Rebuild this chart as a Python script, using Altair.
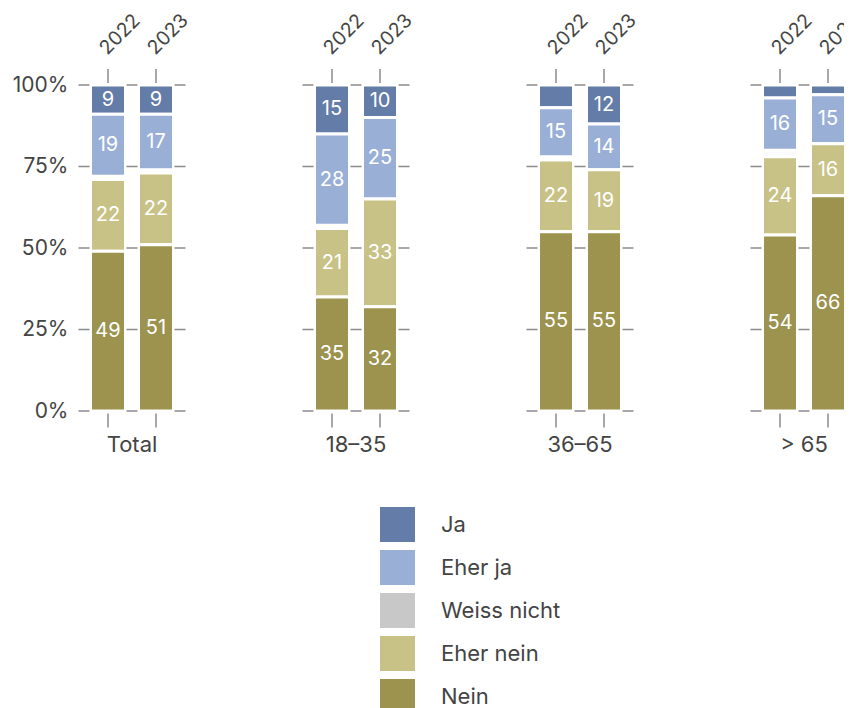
import altair as alt
import pandas as pd

FONT = "Inter"

groups = ["Total", "18–35", "36–65", "> 65"]
years = ["2022", "2023"]
answers = ["Ja", "Eher ja", "Weiss nicht", "Eher nein", "Nein"]
colors = ["#637ca8", "#9aafd6", "#c8c8c8", "#c8c287", "#9c934f"]

# values per (group, year): Total 22, Total 23, 18-35 22, 18-35 23, 36-65 22, 36-65 23, >65 22, >65 23
ja = [9, 9, 15, 10, 7, 12, 4, 3]
eher_ja = [19, 17, 28, 25, 15, 14, 16, 15]
weiss_nicht = [1, 1, 1, 0, 1, 0, 2, 0]
eher_nein = [22, 22, 21, 33, 22, 19, 24, 16]
nein = [49, 51, 35, 32, 55, 55, 54, 66]

levels = [0, 25, 50, 75, 100]

series = {"Ja": ja, "Eher ja": eher_ja, "Weiss nicht": weiss_nicht,
          "Eher nein": eher_nein, "Nein": nein}

rows = []
for gi, g in enumerate(groups):
    for yi, yr in enumerate(years):
        k = gi * 2 + yi
        for ai, a in enumerate(answers):
            rows.append(dict(group=g, year=yr, answer=a, value=series[a][k],
                             order=len(answers) - 1 - ai))
df = pd.DataFrame(rows)
bar_df = pd.DataFrame([dict(group=g, year=yr) for g in groups for yr in years])
tick_df = pd.DataFrame([dict(group=g, level=lv) for g in groups for lv in levels])

TXT = "#444444"
TICK = "#5a5a5a"

xscale = alt.Scale(domain=groups, range=[0, 768], paddingInner=128 / 224, paddingOuter=0)
xoff = alt.Scale(domain=years, paddingInner=13 / 48, paddingOuter=6.5 / 48)
yscale = alt.Scale(domain=[0, 100], nice=False)

xaxis = alt.Axis(orient="bottom", title="", ticks=False, domain=False,
                 labelPadding=23, labelFontSize=22, labelColor=TXT,
                 labelFont=FONT, labelAngle=0, grid=False)
yaxis = alt.Axis(values=levels, labelExpr="datum.value + '%'", ticks=False,
                 domain=False, grid=False, labelPadding=16, labelFontSize=21,
                 labelColor=TXT, title="", labelFont=FONT)

X = alt.X("group:N", scale=xscale, axis=xaxis)
XO = alt.XOffset("year:N", scale=xoff)

base = (alt.Chart(df)
        .transform_stack(stack="value", groupby=["group", "year"], as_=["y0", "y1"],
                         sort=[alt.SortField("order", order="ascending")])
        .transform_calculate(mid="(datum.y0 + datum.y1) / 2"))

bars = base.mark_bar(stroke="white", strokeWidth=3).encode(
    x=X,
    xOffset=XO,
    y=alt.Y("y0:Q", scale=yscale, axis=yaxis),
    y2="y1:Q",
    color=alt.Color("answer:N", scale=alt.Scale(domain=answers, range=colors),
                    legend=alt.Legend(title=None, orient="none", legendX=296, legendY=422,
                                      symbolType="square", symbolSize=1225,
                                      symbolStrokeWidth=0, symbolOpacity=1,
                                      labelFontSize=22, labelColor=TXT, labelFont=FONT,
                                      labelOffset=26, rowPadding=8)),
    opacity=alt.condition(alt.datum.answer == "Weiss nicht", alt.value(0.08), alt.value(1)),
)

seg_text = base.transform_filter(alt.datum.value >= 9).mark_text(
    color="white", fontSize=20, font=FONT, baseline="middle").encode(
    x=X, xOffset=XO,
    y=alt.Y("mid:Q", scale=yscale, axis=yaxis),
    text="value:Q",
)

tick_layers = []
for off in (-48, 0, 48):
    tick_layers.append(
        alt.Chart(tick_df).mark_tick(orient="horizontal", size=11, thickness=1.5,
                                     color=TICK, xOffset=off).encode(
            x=X, y=alt.Y("level:Q", scale=yscale, axis=yaxis)))

top_ticks = alt.Chart(bar_df).mark_tick(orient="vertical", size=14, thickness=1.5,
                                        color=TICK, yOffset=-9).encode(
    x=X, xOffset=XO, y=alt.Y(datum=100, scale=yscale, axis=yaxis))
bottom_ticks = alt.Chart(bar_df).mark_tick(orient="vertical", size=14, thickness=1.5,
                                           color=TICK, yOffset=9.5).encode(
    x=X, xOffset=XO, y=alt.Y(datum=0, scale=yscale, axis=yaxis))

year_labels = alt.Chart(bar_df).mark_text(
    angle=315, align="left", baseline="alphabetic", dx=-1, dy=0, yOffset=-30,
    fontSize=19.5, font=FONT, color=TXT).encode(
    x=X, xOffset=XO, y=alt.Y(datum=100, scale=yscale, axis=yaxis), text="year:N")

chart = (alt.layer(bars, seg_text, *tick_layers, top_ticks, bottom_ticks, year_labels)
         .properties(width=760, height=326,
                     padding={"left": 76, "top": 77, "right": 0, "bottom": 309},
                     autosize=alt.AutoSizeParams(type="none"))
         .configure_view(strokeWidth=0, stroke="transparent"))

chart.save("out.html", embed_options={"renderer": "svg", "actions": False})
